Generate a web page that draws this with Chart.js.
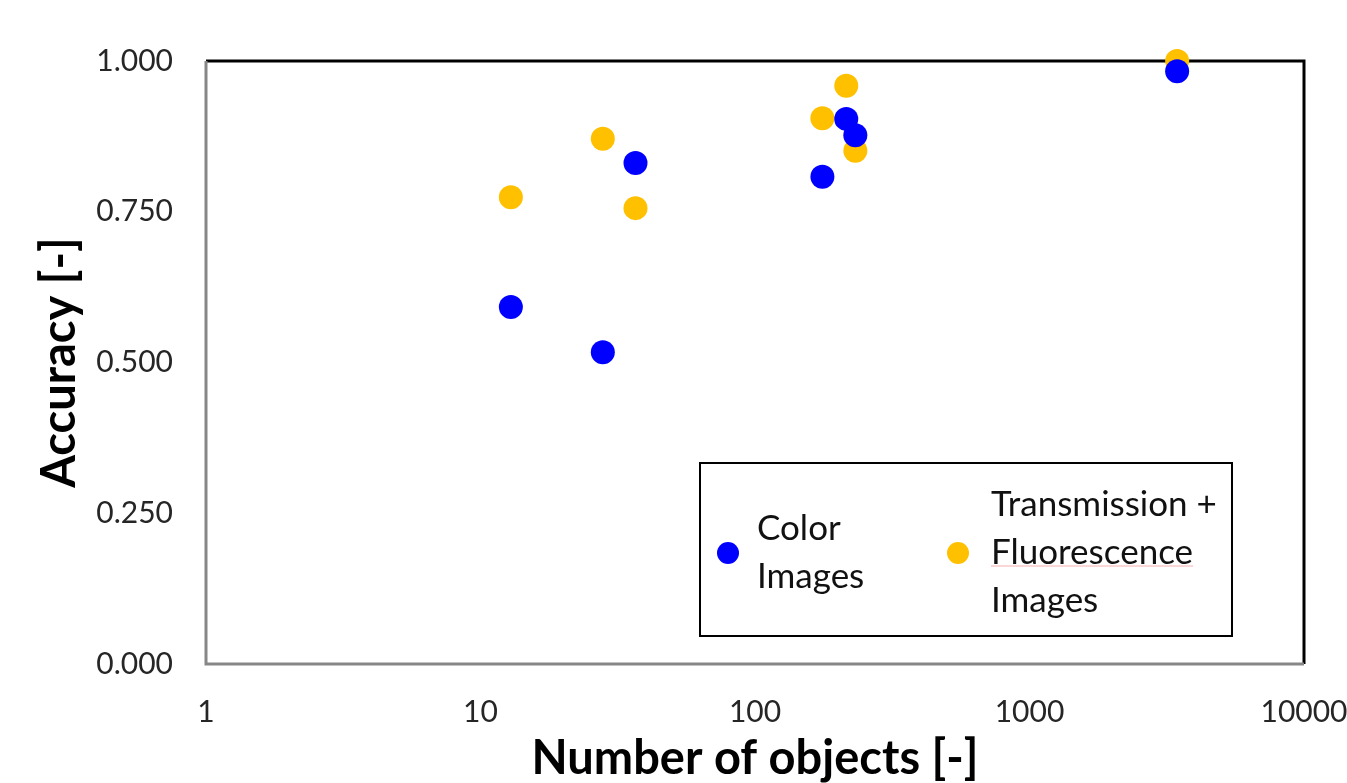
<!DOCTYPE html>
<html>
<head>
<meta charset="utf-8">
<script src="https://cdn.jsdelivr.net/npm/chart.js@4"></script>
<style>
  html, body { margin: 0; padding: 0; background: #fff; }
  #wrap { width: 1347px; height: 783px; }
</style>
</head>
<body>
<div id="wrap"><canvas id="myChart" width="1347" height="783"></canvas></div>
<script>
var seriesNames = ["Color Images", "Transmission + Fluorescence Images"];
var legendLines = [["Color", "Images"], ["Transmission +", "Fluorescence", "Images"]];
var seriesColors = ["#0000FF", "#FFC000"];

// number of objects (same for both series)
var xObjects = [12.9, 27.9, 36.7, 176, 215, 232, 3450];
var yColor = [0.592, 0.517, 0.831, 0.808, 0.904, 0.877, 0.983];
var yTransFluo = [0.774, 0.871, 0.756, 0.905, 0.959, 0.851, 1.000];

var xTicks = [1, 10, 100, 1000, 10000];
var yTicks = [0, 0.25, 0.5, 0.75, 1];

var fontName = "Lato, 'Open Sans', sans-serif";

function toPoints(xs, ys) {
  return xs.map(function (x, i) { return {x: x, y: ys[i]}; });
}

// frame: gray left/bottom, black top/right, drawn under the points
var framePlugin = {
  id: "frame",
  beforeDatasetsDraw: function (chart) {
    var a = chart.chartArea, ctx = chart.ctx;
    ctx.save();
    ctx.lineWidth = 3;
    ctx.strokeStyle = "#000";
    ctx.beginPath();
    ctx.moveTo(a.left, a.top);
    ctx.lineTo(a.right, a.top);
    ctx.lineTo(a.right, a.bottom);
    ctx.stroke();
    ctx.strokeStyle = "#878787";
    ctx.beginPath();
    ctx.moveTo(a.left, a.top);
    ctx.lineTo(a.left, a.bottom);
    ctx.lineTo(a.right, a.bottom);
    ctx.stroke();
    ctx.restore();
  }
};

// boxed legend with wrapped labels
var boxLegend = {
  id: "boxLegend",
  afterDraw: function (chart) {
    var ctx = chart.ctx;
    var box = {x: 700, y: 463, w: 532, h: 173};
    var cy = 553, lh = 48;
    var dotX = [728, 958], textX = [757, 991];
    ctx.save();
    ctx.fillStyle = "#fff";
    ctx.fillRect(box.x, box.y, box.w, box.h);
    ctx.lineWidth = 2;
    ctx.strokeStyle = "#000";
    ctx.strokeRect(box.x, box.y, box.w, box.h);
    ctx.font = "35px " + fontName;
    ctx.textBaseline = "middle";
    ctx.textAlign = "left";
    chart.data.datasets.forEach(function (ds, i) {
      ctx.fillStyle = ds.backgroundColor;
      ctx.beginPath();
      ctx.arc(dotX[i], cy, 11, 0, Math.PI * 2);
      ctx.fill();
      var lines = legendLines[i];
      var y0 = cy - (lines.length - 1) * lh / 2;
      ctx.fillStyle = "#111";
      lines.forEach(function (t, j) {
        ctx.fillText(t, textX[i], y0 + j * lh);
      });
    });
    // spellcheck squiggle under "Fluorescence"
    ctx.strokeStyle = "rgba(240,120,120,0.6)";
    ctx.lineWidth = 1;
    ctx.beginPath();
    ctx.moveTo(991, 566);
    ctx.lineTo(991 + ctx.measureText("Fluorescence").width, 566);
    ctx.stroke();
    ctx.restore();
  }
};

new Chart("myChart", {
  type: "scatter",
  data: {
    datasets: [{
      label: seriesNames[0],
      data: toPoints(xObjects, yColor),
      backgroundColor: seriesColors[0],
      borderWidth: 0,
      pointRadius: 12,
      pointHoverRadius: 12,
      clip: false
    }, {
      label: seriesNames[1],
      data: toPoints(xObjects, yTransFluo),
      backgroundColor: seriesColors[1],
      borderWidth: 0,
      pointRadius: 12,
      pointHoverRadius: 12,
      clip: false
    }]
  },
  options: {
    responsive: false,
    animation: false,
    events: [],
    layout: {padding: {top: 61, right: 43, left: 0, bottom: 0}},
    plugins: {
      legend: {display: false},
      tooltip: {enabled: false}
    },
    scales: {
      x: {
        type: "logarithmic",
        min: 1,
        max: 10000,
        afterBuildTicks: function (scale) {
          scale.ticks = xTicks.map(function (v) { return {value: v}; });
        },
        afterFit: function (scale) {
          scale.height = 119;
          scale.paddingLeft = 0;
          scale.paddingRight = 0;
        },
        grid: {display: false, drawTicks: false},
        border: {display: false},
        ticks: {
          padding: 30,
          color: "#262626",
          font: {family: fontName, size: 30},
          callback: function (v) { return String(v); },
          maxRotation: 0
        },
        title: {
          display: true,
          text: "Number of objects [-]",
          color: "#000",
          font: {family: fontName, size: 47, weight: "bold"},
          padding: {top: 0, bottom: -4}
        }
      },
      y: {
        min: 0,
        max: 1,
        afterBuildTicks: function (scale) {
          scale.ticks = yTicks.map(function (v) { return {value: v}; });
        },
        afterFit: function (scale) {
          scale.width = 206;
          scale.paddingTop = 0;
          scale.paddingBottom = 0;
        },
        grid: {display: false, drawTicks: false},
        border: {display: false},
        ticks: {
          padding: 33,
          color: "#262626",
          font: {family: fontName, size: 30},
          callback: function (v) { return Number(v).toFixed(3); }
        },
        title: {
          display: true,
          text: "Accuracy [-]",
          color: "#000",
          font: {family: fontName, size: 47, weight: "bold"},
          padding: {top: 32, bottom: 0}
        }
      }
    }
  },
  plugins: [framePlugin, boxLegend]
});
</script>
</body>
</html>
